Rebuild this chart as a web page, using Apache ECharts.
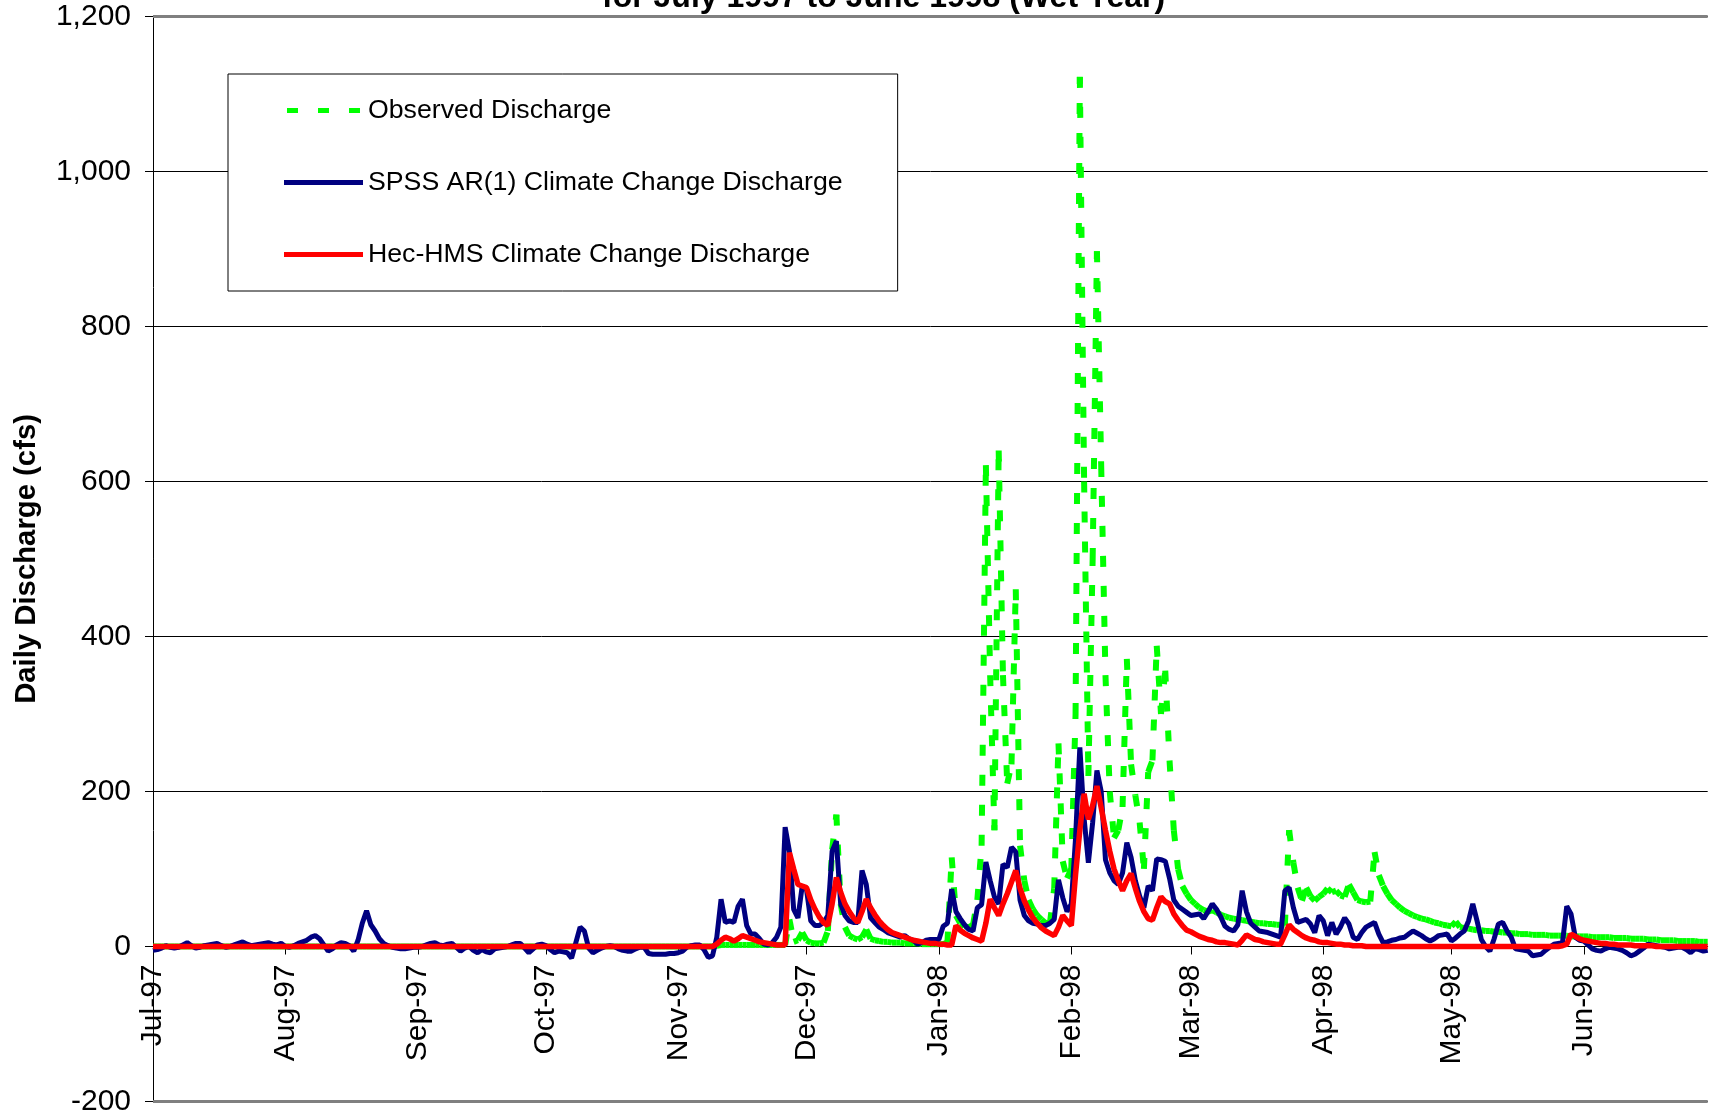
<!DOCTYPE html>
<html>
<head>
<meta charset="utf-8">
<title>Daily Discharge</title>
<script src="https://cdn.jsdelivr.net/npm/echarts@6/dist/echarts.min.js"></script>
<style>
  html, body { margin: 0; padding: 0; background: #fff; }
  #chart { width: 1710px; height: 1117px; }
</style>
</head>
<body>
<div id="chart"></div>
<script>
// month tick labels and the number of days in each month (Jul 1997 - Jun 1998)
const monthLabels = ['Jul-97', 'Aug-97', 'Sep-97', 'Oct-97', 'Nov-97', 'Dec-97',
  'Jan-98', 'Feb-98', 'Mar-98', 'Apr-98', 'May-98', 'Jun-98'];
const monthLengths = [31, 31, 30, 31, 30, 31, 31, 28, 31, 30, 31, 30];

// daily values (cfs), one line per month
const observed = [
  0,0,0,0,0,0,0,0,0,0,0,0,0,0,0,0,0,0,0,0,0,0,0,0,0,0,0,0,0,0,0,
  0,0,0,0,0,0,0,0,0,0,0,0,0,0,0,0,0,0,0,0,0,0,0,0,0,0,0,0,0,0,0,
  0,0,0,0,0,0,0,0,0,0,0,0,0,0,0,0,0,0,0,0,0,0,0,0,0,0,0,0,0,0,
  0,0,0,0,0,0,0,0,0,0,0,0,0,0,0,0,0,0,0,0,0,0,0,0,0,0,0,0,0,0,0,
  0,0,0,0,0,0,0,0,0,1,2,2,2,2,2,2,2,2,2,2,2,2,2,2,2,2,35,6,8,18,
  8,5,4,4,5,20,125,170,55,25,14,11,9,12,22,10,8,7,6,6,5,5,5,4,4,4,4,3,3,3,3,
  3,3,5,115,40,30,26,25,28,60,130,621,350,150,640,350,210,235,461,130,85,60,48,40,35,30,30,75,262,110,88,
  100,300,1122,600,220,500,897,620,350,200,140,150,180,371,235,195,160,100,225,240,388,300,356,240,150,100,78,68,
  60,55,50,47,45,47,44,41,39,37,36,35,34,33,32,31,30,30,29,29,28,28,27,150,108,76,59,76,65,59,64,
  68,75,70,72,66,64,80,70,60,58,57,58,122,92,78,68,60,55,50,46,43,40,38,36,35,33,31,30,28,27,
  26,32,25,24,23,22,21,21,20,20,19,19,18,18,17,17,16,16,16,15,15,15,15,14,14,14,14,14,13,13,13,
  13,13,12,12,12,12,12,11,11,11,11,10,10,10,10,9,9,9,8,8,8,8,7,7,7,7,7,6,6,6
];

const spss = [
  -5,-4,-2,1,-1,-2,-1,2,5,1,-2,-1,1,2,3,4,1,-1,0,2,4,6,3,1,2,3,4,5,3,2,4,
  0,-1,1,4,6,8,12,14,10,2,-6,-3,2,5,4,1,-6,8,30,46,28,20,10,4,1,-1,-2,-3,-3,-2,-1,
  -1,0,2,4,5,2,1,3,4,-1,-6,-2,0,-5,-8,-4,-7,-8,-3,-2,-1,0,2,4,4,-2,-8,-3,2,3,
  1,-4,-8,-6,-7,-8,-15,5,25,20,-2,-8,-5,-2,0,1,0,-3,-5,-6,-6,-3,-1,-1,-9,-10,-10,-10,-10,-9,-9,
  -8,-6,-1,1,2,2,-4,-14,-12,12,61,31,33,31,52,61,27,16,16,10,3,2,5,12,25,154,123,48,37,78,
  74,33,27,27,31,40,123,136,55,40,33,31,31,98,80,37,31,25,22,18,16,14,12,14,10,8,3,5,8,9,9,
  9,26,30,74,45,36,28,22,20,50,54,109,85,64,55,106,102,128,122,60,40,33,30,29,27,27,30,35,86,63,45,
  55,140,257,165,108,160,227,200,112,95,85,80,95,134,115,85,65,50,78,72,113,112,110,88,60,52,48,44,
  40,41,42,36,45,55,48,38,26,22,20,28,72,45,30,25,20,19,18,16,14,12,72,76,50,31,33,35,29,18,40,
  33,14,31,16,25,37,29,12,9,18,25,28,31,16,5,6,8,9,11,12,16,20,17,14,10,7,10,14,15,16,
  7,11,16,20,33,55,33,9,0,-6,10,29,31,20,12,-3,-4,-5,-6,-12,-11,-10,-5,-1,3,4,5,52,42,12,8,
  7,2,-3,-5,-6,-3,-1,-2,-3,-5,-8,-12,-10,-6,-2,3,2,1,0,-1,-3,-2,-1,-1,-4,-8,-3,-4,-6,-5
];

const hecHms = [
  0,0,0,0,0,0,0,0,0,0,0,0,0,0,0,0,0,0,0,0,0,0,0,0,0,0,0,0,0,0,0,
  0,0,0,0,0,0,0,0,0,0,0,0,0,0,0,0,0,0,0,0,0,0,0,0,0,0,0,0,0,0,0,
  0,0,0,0,0,0,0,0,0,0,0,0,0,0,0,0,0,0,0,0,0,0,0,0,0,0,0,0,0,0,
  0,0,0,0,0,0,0,0,0,0,0,0,0,0,0,0,0,0,0,0,0,0,0,0,0,0,0,0,0,0,0,
  0,0,0,0,0,0,0,0,0,3,8,12,10,7,10,14,12,10,8,6,5,4,3,2,2,2,121,100,80,78,
  76,60,48,38,31,27,55,89,70,55,45,37,31,45,61,50,41,33,27,22,18,16,14,12,10,8,7,6,5,4,4,
  3,3,2,2,27,21,17,14,11,9,7,30,61,50,40,55,68,83,98,75,59,47,37,30,24,20,17,14,25,40,33,
  27,93,150,197,164,182,207,179,150,123,100,85,72,85,94,75,58,45,36,34,50,64,58,55,42,34,27,21,
  19,16,13,11,9,8,6,5,5,4,3,2,8,15,12,9,8,6,5,4,3,3,15,28,22,18,14,11,9,8,6,
  5,5,4,3,3,2,2,1,1,1,0,0,0,0,0,0,0,0,0,0,0,0,0,0,0,0,0,0,0,0,
  0,0,0,0,0,0,0,0,0,0,0,0,0,0,0,0,0,0,0,0,0,0,0,0,0,0,1,3,16,13,10,
  8,7,6,5,4,4,3,3,2,2,2,2,1,1,1,1,1,0,0,0,0,0,0,0,0,0,0,0,0,0
];

// one category per day, "label|day"
const days = [];
monthLabels.forEach(function (label, m) {
  for (let d = 1; d <= monthLengths[m]; d++) {
    days.push(label + '|' + d);
  }
});
function isMonthStart(index, value) {
  return String(value).split('|')[1] === '1';
}

const FONT = "'Liberation Sans', Arial, sans-serif";
const GRID_TOP = 16.4;
const GRID_BOTTOM = 15.5;
const Y_MIN = -200;
const Y_MAX = 1200;
const plotHeight = 1117 - GRID_TOP - GRID_BOTTOM;
// the date axis sits on the zero line (v6 keeps onZero labels at the grid edge, so shift it instead)
const zeroOffset = -plotHeight * (0 - Y_MIN) / (Y_MAX - Y_MIN);

const chart = echarts.init(document.getElementById('chart'));

chart.setOption({
  animation: false,
  backgroundColor: '#ffffff',
  title: {
    text: 'for July 1997 to June 1998 (Wet Year)',
    left: 597,
    top: -23,
    textStyle: { fontFamily: FONT, fontSize: 32, fontWeight: 'bold', color: '#000' }
  },
  legend: {
    orient: 'vertical',
    left: 228,
    top: 74,
    padding: [23, 55, 23, 56],
    itemGap: 45,
    itemWidth: 79,
    itemHeight: 5,
    selectedMode: false,
    backgroundColor: '#ffffff',
    borderColor: '#000000',
    borderWidth: 1,
    textStyle: { fontFamily: FONT, fontSize: 26.7, color: '#000' },
    data: [
      { name: 'Observed Discharge', icon: 'path://M0,0h11v5h-11zM31,0h11v5h-11zM62,0h11v5h-11z',
        itemStyle: { color: '#00ff00', borderWidth: 0 } },
      { name: 'SPSS AR(1) Climate Change Discharge', icon: 'rect',
        itemStyle: { color: '#000080', borderWidth: 0 } },
      { name: 'Hec-HMS Climate Change Discharge', icon: 'rect',
        itemStyle: { color: '#ff0000', borderWidth: 0 } }
    ]
  },
  grid: {
    left: 153,
    right: 2.3,
    top: GRID_TOP,
    bottom: GRID_BOTTOM,
    outerBoundsMode: 'none'
  },
  xAxis: {
    type: 'category',
    data: days,
    boundaryGap: false,
    position: 'bottom',
    offset: zeroOffset,
    axisLine: { onZero: false, lineStyle: { color: '#000', width: 1 } },
    axisTick: { interval: isMonthStart, length: 8, lineStyle: { color: '#000' } },
    axisLabel: {
      interval: 0,
      rotate: 90,
      margin: 18,
      fontFamily: FONT,
      fontSize: 30,
      color: '#000',
      formatter: function (v) {
        const parts = String(v).split('|');
        return parts[1] === '1' ? parts[0] : '';
      }
    },
    splitLine: { show: false }
  },
  yAxis: {
    type: 'value',
    min: Y_MIN,
    max: Y_MAX,
    interval: 200,
    name: 'Daily Discharge (cfs)',
    nameLocation: 'middle',
    nameGap: 112,
    nameTextStyle: { fontFamily: FONT, fontSize: 29.3, fontWeight: 'bold', color: '#000' },
    axisLine: { show: true, onZero: false, lineStyle: { color: '#000', width: 1 } },
    axisTick: { show: true, length: 8, lineStyle: { color: '#000' } },
    axisLabel: {
      margin: 22,
      fontFamily: FONT,
      fontSize: 30,
      color: '#000',
      formatter: function (v) { return v.toLocaleString('en-US'); }
    },
    splitLine: { show: true, lineStyle: { color: '#000', width: 1 } }
  },
  series: [
    {
      // Excel restarts the dash pattern on every segment, so draw each day-to-day piece
      name: 'Observed Discharge',
      type: 'custom',
      silent: true,
      itemStyle: { color: '#00ff00' },
      encode: { x: 0, y: 1 },
      data: observed.map(function (v, i) { return [i, v]; }),
      renderItem: function (params, api) {
        const i = params.dataIndex;
        if (i >= observed.length - 1) return null;
        const a = api.coord([i, observed[i]]);
        const b = api.coord([i + 1, observed[i + 1]]);
        return {
          type: 'line',
          shape: { x1: a[0], y1: a[1], x2: b[0], y2: b[1] },
          style: { stroke: '#00ff00', lineWidth: 6, lineDash: [11, 19], lineCap: 'butt' }
        };
      }
    },
    {
      name: 'SPSS AR(1) Climate Change Discharge',
      type: 'line',
      data: spss,
      color: '#000080',
      symbol: 'none',
      silent: true,
      lineStyle: { color: '#000080', width: 5 },
      markLine: {
        silent: true,
        symbol: 'none',
        label: { show: false },
        lineStyle: { color: '#808080', width: 3, type: 'solid' },
        data: [{ yAxis: Y_MAX }, { yAxis: Y_MIN }]
      }
    },
    {
      name: 'Hec-HMS Climate Change Discharge',
      type: 'line',
      data: hecHms,
      color: '#ff0000',
      symbol: 'none',
      silent: true,
      lineStyle: { color: '#ff0000', width: 5.5 }
    }
  ]
});
</script>
</body>
</html>
